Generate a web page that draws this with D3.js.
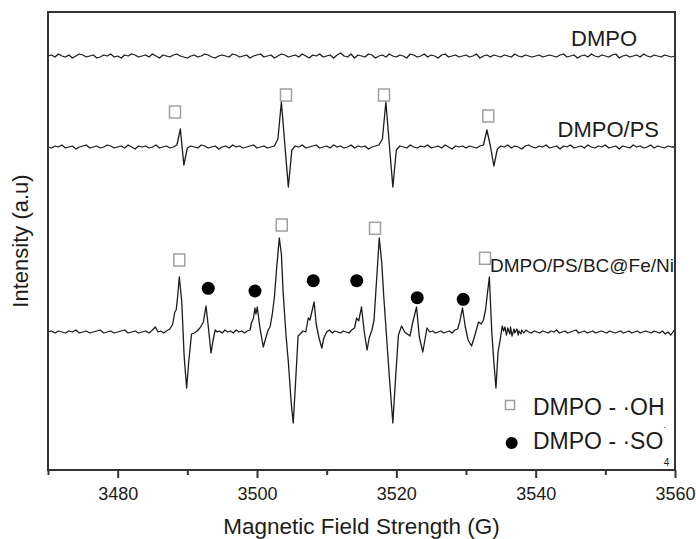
<!DOCTYPE html>
<html>
<head>
  <meta charset="utf-8">
  <style>
    body { margin: 0; background: #fff; }
    svg { display: block; font-family: "Liberation Sans", Arial, sans-serif; }
  </style>
  <title>EPR</title>
</head>
<body>
<script src="https://cdn.jsdelivr.net/npm/d3@7"></script>
<script>
  // field sweep (G)
  var fieldStart = 3470, fieldStep = 0.5;
  var majorTicks = [3480, 3500, 3520, 3540, 3560];
  var minorTicks = [3470, 3490, 3510, 3530, 3550];

  // trace offsets (a.u.)
  var offsets = { dmpo: 414, ps: 323, bc: 138 };

  // DMPO : values on the 0.5 G sweep
  var dmpoValues = [
    0,1,-1,2,0,-1,1,-2,0,2,1,-1,0,1,-2,-1,1,0,2,-1,
    0,-2,1,0,2,1,-1,0,1,-1,2,0,-2,1,0,-1,1,2,0,-1,
    -2,0,1,-1,0,2,1,-1,-2,0,1,0,-1,2,1,-1,0,1,-2,0,
    1,2,-1,0,1,-2,0,2,1,-1,0,1,-1,2,0,-2,1,0,2,-1,
    0,1,-2,1,3,0,-1,2,-2,1,0,-1,2,1,-2,0,1,-1,2,0,
    -1,1,0,-2,2,1,-1,0,2,-1,1,0,-2,1,2,-1,0,1,-1,0,
    1,-1,0,2,-2,0,1,-1,1,0,-1,1,0,-1,2,0,-1,1,0,-1,
    0,1,-1,0,1,0,-1,1,2,-1,0,1,-2,0,1,-1,2,0,-1,1,
    0,-1,1,2,-2,0,1,-1,0,1,-1,2,0,-1,1,0,-1,1,0,-1,
    0
  ];

  // DMPO/PS : values on the 0.5 G sweep
  var psValues = [
    0,-1,1,0,2,-1,0,1,-2,0,1,2,-1,0,1,-1,0,2,1,-1,
    0,1,-1,2,0,-2,1,0,1,-1,0,2,-1,0,1,-1,0,2,18,-18,
    -1,1,0,-1,2,1,-1,0,1,-2,0,1,-1,2,0,1,-1,0,1,2,
    -1,0,1,-1,0,1,8,45,2,-40,-3,1,0,2,-1,0,1,2,-1,0,
    1,-1,2,0,1,-1,0,2,-1,1,0,1,-2,0,1,2,8,45,2,-40,
    -3,1,0,-1,2,0,-1,1,0,2,-1,0,1,-1,2,0,-2,1,0,1,
    -1,1,0,-1,1,2,17,1,-19,-2,1,0,2,-1,1,0,-2,1,2,0,
    -1,1,0,2,-1,0,1,-2,1,0,2,-1,0,1,-1,2,0,-1,1,0,
    2,-1,0,1,-2,1,0,-1,2,0,1,-1,0,2,-1,1,0,-1,1,0,
    0
  ];

  // DMPO/PS/BC@Fe/Ni : [field, value]
  var bcPoints = [
    [3470,0],[3470.5,1],[3471,-1],[3471.5,1],[3472,0],[3472.5,-1],[3473,1],[3473.5,0],[3474,2],[3474.5,-1],
    [3475,0],[3475.5,1],[3476,-1],[3476.5,0],[3477,1],[3477.5,2],[3478,-1],[3478.5,0],[3479,1],[3479.5,-1],
    [3480,0],[3480.5,1],[3481,2],[3481.5,-1],[3482,0],[3482.5,1],[3483,-1],[3483.5,0],[3484,1],[3484.5,-1],
    [3485,2],[3485.4,5],[3485.8,0],[3486.2,1],[3486.6,-1],[3487,1],[3487.5,3],
    [3487.9,8],[3488.2,20],[3488.4,22],[3488.6,35],[3488.85,55],[3489.2,30],[3489.55,-25],[3489.9,-56],[3490.2,-30],
    [3490.6,-2],[3491,-1],[3491.4,1],[3491.8,4],[3492.06,7],[3492.3,10],[3492.68,26],[3493,6],[3493.4,-21],[3493.7,-8],
    [3494,2],[3494.3,0],[3494.6,1],[3495,-1],[3495.4,2],[3495.8,0],[3496.2,1],[3496.6,-1],[3497,2],[3497.4,0],
    [3497.8,1],[3498.2,-1],[3498.6,1],[3499,2],[3499.2,9],[3499.5,14],[3499.7,24],[3499.85,18],[3500.04,25],[3500.4,5],
    [3500.9,-15],[3501.3,-5],[3501.6,2],[3501.87,5],
    [3502.2,18],[3502.5,35],[3502.8,62],[3503.2,94],[3503.5,78],[3503.75,40],[3504.16,-3],[3504.5,-30],[3504.9,-70],[3505.2,-91],
    [3505.5,-55],[3505.9,-4],[3506.2,-2],[3506.6,1],[3507,0],[3507.36,14],[3507.6,12],[3507.8,18],[3508.2,30],[3508.5,8],
    [3508.9,-6],[3509.3,-16],[3509.6,-6],[3510,0],[3510.4,2],[3510.8,-1],[3511.2,1],[3511.6,0],[3512,-1],[3512.4,1],
    [3512.8,0],[3513.2,-1],[3513.6,2],[3514,4],[3514.3,14],[3514.6,11],[3515,25],[3515.4,0],[3515.8,-18],[3516.1,-6],
    [3516.5,2],[3516.8,12],[3517.1,45],[3517.55,94],[3517.9,70],[3518.2,35],[3518.6,-5],[3519,-45],[3519.5,-91],[3519.9,-45],
    [3520.3,-3],[3520.6,3],[3520.76,6],[3521.2,0],[3521.96,-4],[3522.3,8],[3522.9,25],[3523.3,-5],[3523.8,-20],[3524.1,-8],
    [3524.4,4],[3524.8,0],[3525.2,1],[3525.6,-1],[3526,0],[3526.4,1],[3526.8,-1],[3527.2,0],[3527.6,1],[3528,-1],
    [3528.4,2],[3528.8,3],[3529.1,10],[3529.5,24],[3529.9,5],[3530.3,-8],[3530.8,-14],[3531.2,-5],[3531.8,10],[3532.2,8],
    [3532.5,12],[3532.8,22],[3533.35,55],[3533.7,0],[3534,-30],[3534.3,-56],[3534.6,-20],[3534.9,-8],
    [3535.2,6],[3535.4,1],[3535.6,5],[3535.8,-3],[3536,4],[3536.3,-2],[3536.4,5],[3536.6,-4],[3536.9,3],[3537,-1],
    [3537.3,3],[3537.5,-3],[3537.6,1],[3537.9,-2],[3538,2],[3538.3,-1],[3538.6,2],[3539,0],[3539.4,-1],[3539.8,1],
    [3540.2,0],[3540.6,-1],[3541,1],[3541.4,0],[3541.8,-1],[3542.2,1],[3542.6,0],[3543,2],[3543.4,-1],[3543.8,0],
    [3544.2,1],[3544.6,-1],[3545,0],[3545.4,1],[3545.8,2],[3546.2,-1],[3546.6,0],[3547,1],[3547.4,-1],[3547.8,0],
    [3548.2,1],[3548.6,-1],[3549,0],[3549.4,1],[3549.8,0],[3550.2,-1],[3550.6,1],[3551,0],[3551.4,-1],[3551.8,0],
    [3552.2,1],[3552.6,-1],[3553,0],[3553.4,1],[3553.8,-1],[3554.2,0],[3554.6,1],[3555,-1],[3555.4,0],[3555.8,1],
    [3556.2,0],[3556.6,-1],[3557,1],[3557.4,0],[3557.8,-1],[3558.2,1],[3558.6,-2],[3559,0],[3559.4,-3],[3559.8,1],
    [3560,0]
  ];

  // markers [field, intensity a.u.]
  var psOhMarks = [[3488.23, 358], [3504.16, 375], [3518.23, 375], [3533.2, 354]];
  var bcOhMarks = [[3488.85, 210], [3503.55, 245], [3516.94, 241.7], [3532.73, 211.7]];
  var bcSo4Marks = [[3493.0, 181.7], [3499.71, 179], [3508.08, 189.3], [3514.31, 189.3], [3523.0, 172.3], [3529.6, 170.7]];

  var traceLabels = ["DMPO", "DMPO/PS", "DMPO/PS/BC@Fe/Ni"];

  var W = 696, H = 539;
  var pl = 48, pr = 675, pt = 12, pb = 470;

  var x = d3.scaleLinear().domain([3470, 3560]).range([pl, pr]);
  var y = d3.scaleLinear().domain([0, 458]).range([pb, pt]);

  var svg = d3.select("body").append("svg")
    .attr("width", W)
    .attr("height", H);

  var ink = "#1c1c1c";

  function toPoints(values, off) {
    return values.map(function (v, i) { return [fieldStart + i * fieldStep, v + off]; });
  }

  var line = d3.line()
    .x(function (d) { return x(d[0]); })
    .y(function (d) { return y(d[1]); });

  var traces = [
    toPoints(dmpoValues, offsets.dmpo),
    toPoints(psValues, offsets.ps),
    bcPoints.map(function (d) { return [d[0], d[1] + offsets.bc]; })
  ];

  svg.selectAll("path.trace").data(traces).enter().append("path")
    .attr("class", "trace")
    .attr("d", line)
    .attr("fill", "none")
    .attr("stroke", ink)
    .attr("stroke-width", 1.3)
    .attr("stroke-linejoin", "round");

  // OH squares
  var sq = 11, sqh = 12;
  svg.selectAll("rect.oh").data(psOhMarks.concat(bcOhMarks)).enter().append("rect")
    .attr("class", "oh")
    .attr("x", function (d) { return x(d[0]) - sq / 2; })
    .attr("y", function (d) { return y(d[1]) - sqh / 2; })
    .attr("width", sq)
    .attr("height", sqh)
    .attr("fill", "#fff")
    .attr("stroke", "#a0a0a0")
    .attr("stroke-width", 1.5);

  // SO4 dots
  svg.selectAll("circle.so4").data(bcSo4Marks).enter().append("circle")
    .attr("class", "so4")
    .attr("cx", function (d) { return x(d[0]); })
    .attr("cy", function (d) { return y(d[1]); })
    .attr("r", 6.5)
    .attr("fill", "#000");

  // trace labels
  svg.append("text").attr("x", 637).attr("y", 46).attr("text-anchor", "end")
    .attr("font-size", 22).attr("fill", ink).text(traceLabels[0]);
  svg.append("text").attr("x", 659).attr("y", 137).attr("text-anchor", "end")
    .attr("font-size", 22).attr("fill", ink).text(traceLabels[1]);
  svg.append("text").attr("x", 490).attr("y", 272)
    .attr("font-size", 19).attr("fill", ink).text(traceLabels[2]);

  // axes
  var xAxis = d3.axisBottom(x).tickValues(majorTicks).tickSize(8).tickPadding(9)
    .tickFormat(d3.format("d"));
  var gx = svg.append("g")
    .attr("transform", "translate(0," + pb + ")")
    .call(xAxis);
  var gm = svg.append("g")
    .attr("transform", "translate(0," + pb + ")")
    .call(d3.axisBottom(x).tickValues(minorTicks).tickSize(5).tickFormat(""));
  [gx, gm].forEach(function (g) {
    g.select(".domain").remove();
    g.selectAll("line").attr("stroke", "#333").attr("stroke-width", 2);
  });
  gx.attr("font-size", 18).attr("font-family", "Liberation Sans, Arial, sans-serif");
  gx.selectAll("text").attr("fill", ink);

  // frame
  svg.append("rect")
    .attr("x", pl).attr("y", pt)
    .attr("width", pr - pl).attr("height", pb - pt)
    .attr("fill", "none").attr("stroke", "#333").attr("stroke-width", 2);

  // axis titles
  svg.append("text").attr("x", (pl + pr) / 2).attr("y", 534)
    .attr("text-anchor", "middle").attr("font-size", 22.5).attr("fill", ink)
    .text("Magnetic Field Strength (G)");
  svg.append("text")
    .attr("transform", "translate(28," + (pt + pb) / 2 + ") rotate(-90)")
    .attr("text-anchor", "middle").attr("font-size", 22).attr("fill", ink)
    .text("Intensity (a.u)");

  // legend
  var lg = svg.append("g");
  lg.append("rect").attr("x", 505.5).attr("y", 400.5).attr("width", 9).attr("height", 9)
    .attr("fill", "#fff").attr("stroke", "#a0a0a0").attr("stroke-width", 1.5);
  lg.append("text").attr("x", 533).attr("y", 415).attr("font-size", 23).attr("fill", ink)
    .text("DMPO - \u00b7OH");
  lg.append("circle").attr("cx", 511.7).attr("cy", 443).attr("r", 6).attr("fill", "#000");
  var t2 = lg.append("text").attr("x", 533).attr("y", 449).attr("font-size", 23).attr("fill", ink);
  t2.append("tspan").text("DMPO - \u00b7SO");
  t2.append("tspan").attr("font-size", 10).attr("dy", -14).text("\u02d9");
  t2.append("tspan").attr("font-size", 10).attr("dx", -3).attr("dy", 31).text("4");
</script>
</body>
</html>
